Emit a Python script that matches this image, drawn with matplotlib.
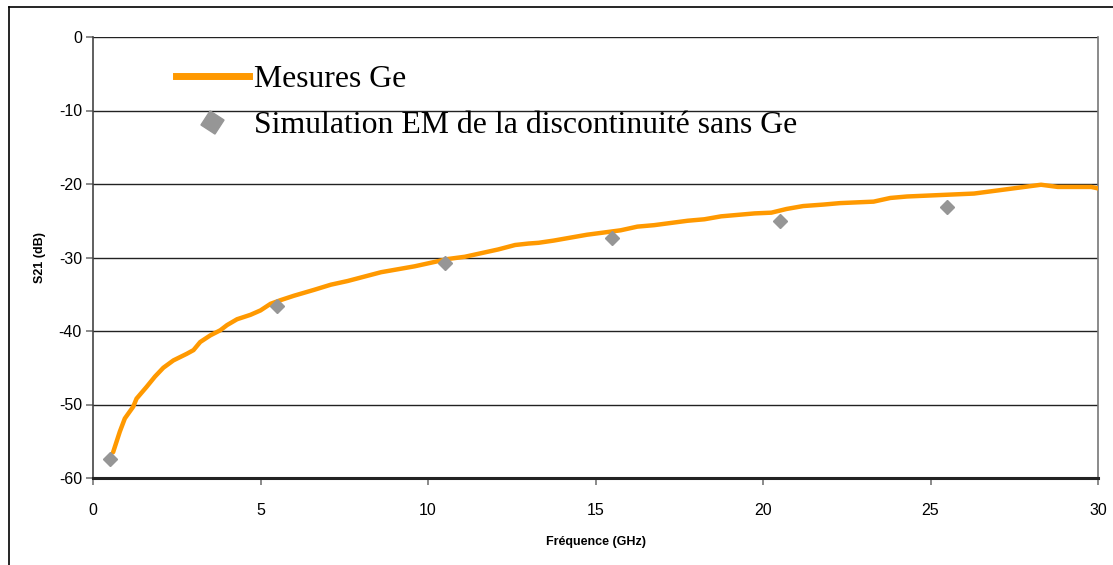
import matplotlib
matplotlib.use("Agg")
import matplotlib.pyplot as plt
from matplotlib.lines import Line2D

plt.rcParams["axes.unicode_minus"] = False

# Measured S21 of the Ge sample (GHz, dB)
freq_meas = [0.6, 0.8, 0.95, 1.2, 1.3, 1.6, 1.85, 2.1, 2.4, 2.8, 3.0, 3.2, 3.5, 3.8,
             4.0, 4.3, 4.7, 5.0, 5.3, 5.6, 6.0, 6.6, 7.1, 7.6, 8.1, 8.6, 9.1, 9.6,
             10.1, 10.6, 11.1, 11.6, 12.1, 12.6, 13.0, 13.3, 13.75, 14.25, 14.75,
             15.25, 15.75, 16.25, 16.75, 17.25, 17.75, 18.25, 18.75, 19.25, 19.75,
             20.25, 20.7, 21.2, 21.8, 22.3, 22.8, 23.3, 23.8, 24.3, 24.8, 25.3,
             25.8, 26.3, 26.8, 27.3, 27.8, 28.3, 28.8, 29.3, 29.8, 30.0]
s21_meas = [-56.5, -53.7, -51.9, -50.3, -49.2, -47.6, -46.2, -45.0, -44.0, -43.1,
            -42.6, -41.5, -40.6, -39.9, -39.2, -38.4, -37.8, -37.2, -36.3, -35.8,
            -35.2, -34.4, -33.7, -33.2, -32.6, -32.0, -31.6, -31.2, -30.7, -30.2,
            -29.9, -29.4, -28.9, -28.3, -28.1, -28.0, -27.7, -27.3, -26.9, -26.6,
            -26.3, -25.8, -25.6, -25.3, -25.0, -24.8, -24.4, -24.2, -24.0, -23.9,
            -23.4, -23.0, -22.8, -22.6, -22.5, -22.4, -21.9, -21.7, -21.6, -21.5,
            -21.4, -21.3, -21.0, -20.7, -20.4, -20.1, -20.4, -20.4, -20.4, -20.6]

# EM simulation of the discontinuity without Ge
freq_sim = [0.5, 5.5, 10.5, 15.5, 20.5, 25.5]
s21_sim = [-57.4, -36.6, -30.8, -27.4, -25.1, -23.1]

x_ticks = [0, 5, 10, 15, 20, 25, 30]
y_ticks = [0, -10, -20, -30, -40, -50, -60]

ORANGE = "#FF9900"
GREY = "#969696"

W, H = 1113, 565
fig = plt.figure(figsize=(W / 100, H / 100), dpi=100)
ax = fig.add_axes([93 / W, 1 - 478 / H, (1098 - 93) / W, (478 - 37) / H])

ax.set_xlim(0, 30)
ax.set_ylim(-60, 0)
ax.set_xticks(x_ticks)
ax.set_yticks(y_ticks)

ax.yaxis.grid(True, color="#222222", linewidth=1.0)
ax.set_axisbelow(True)

ax.plot(freq_meas, s21_meas, color=ORANGE, linewidth=3.2, solid_capstyle="round",
        zorder=3)
ax.plot(freq_sim, s21_sim, linestyle="none", marker="D", markersize=7.5,
        color=GREY, markeredgecolor=GREY, zorder=4)

ax.spines["top"].set_visible(False)
ax.spines["left"].set_color("#444444")
ax.spines["left"].set_linewidth(1.2)
ax.spines["right"].set_color("#777777")
ax.spines["right"].set_linewidth(1.2)
ax.spines["bottom"].set_color("#222222")
ax.spines["bottom"].set_linewidth(2.2)

tick_family = ["Liberation Sans", "DejaVu Sans"]
ax.tick_params(axis="both", direction="out", length=5, width=1.2, color="#777777",
               labelcolor="black")
for lbl in ax.get_xticklabels() + ax.get_yticklabels():
    lbl.set_fontfamily(tick_family)
    lbl.set_fontsize(11.5)
ax.tick_params(axis="x", pad=13)
ax.tick_params(axis="y", pad=3)

label_font = dict(family=["Liberation Sans", "DejaVu Sans"], size=9, weight="bold")
ax.set_xlabel("Fréquence (GHz)", labelpad=13, **label_font)
ax.set_ylabel("S21 (dB)", labelpad=9, **label_font)

handles = [
    Line2D([], [], color=ORANGE, linewidth=5),
    Line2D([], [], linestyle="none", marker=(4, 0, 12), markersize=17,
           color=GREY, markeredgecolor=GREY),
]
labels = ["Mesures Ge", "Simulation EM de la discontinuité sans Ge"]
leg = ax.legend(handles, labels, loc="upper left", bbox_to_anchor=(0.0695, 0.965),
                frameon=False, handlelength=2.3, handletextpad=0.17,
                labelspacing=0.52, borderaxespad=0,
                prop=dict(family=["Liberation Serif", "DejaVu Serif"], size=22.9))
leg.set_zorder(5)

# outer border of the chart area
fig.add_artist(Line2D([9 / W, 9 / W], [0, 1 - 7 / H], transform=fig.transFigure,
                      color="black", linewidth=1.2))
fig.add_artist(Line2D([9 / W, 1], [1 - 7 / H, 1 - 7 / H], transform=fig.transFigure,
                      color="black", linewidth=1.2))

fig.savefig("out.png", dpi=100)
